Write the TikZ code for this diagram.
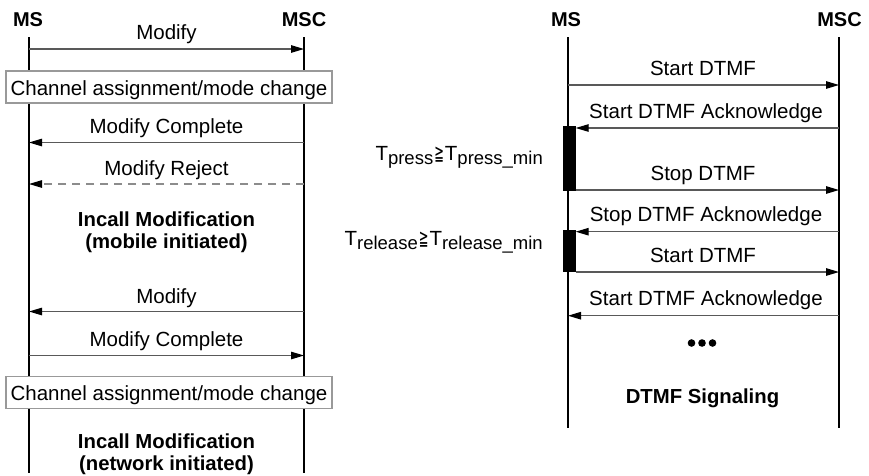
\documentclass[tikz,border=0pt]{standalone}
\usepackage{fontspec}
\usepackage{graphicx}
\setmainfont{Liberation Sans}
\newfontfamily\symfont{DejaVu Sans}
\usetikzlibrary{arrows.meta}
\newcommand{\subtxt}[1]{\raisebox{-3.5pt}{\fontsize{18.5}{18}\selectfont #1}}
\newcommand{\geqq}{\hspace{1pt}\scalebox{0.55}[1]{\symfont\fontsize{21}{21}\selectfont ≧}\hspace{1pt}}
\begin{document}
\begin{tikzpicture}[x=1pt,y=-1pt,
  every node/.style={inner sep=0pt, font=\fontsize{20.5}{21.7}\selectfont},
  head/.style={anchor=base, font=\fontsize{20}{21.7}\selectfont\bfseries},
  lbl/.style={anchor=base},
  title/.style={align=center, font=\fontsize{20.3}{21.7}\selectfont\bfseries},
  life/.style={line width=2.2pt, black},
  msg/.style={line width=1.1pt, draw=black!65, -{Triangle[length=13pt,width=7.5pt,color=black]}},
  rej/.style={msg, draw=black!45, dash pattern=on 8pt off 6pt},
  chbox/.style={anchor=base, draw=black!40, line width=1.4pt, fill=white,
    minimum width=326pt, text height=24pt, text depth=8pt},
  bar/.style={fill=black, draw=none},
]
\useasboundingbox (0,0) rectangle (869,475);

% ---------- left diagram ----------
\node[head] (msA) at (28,26) {MS};
\node[head] (mscA) at (304,26) {MSC};
\coordinate (msAtop) at (29,37);
\coordinate (msAbot) at (29,473);
\coordinate (mscAtop) at (304,37);
\coordinate (mscAbot) at (304,473);
\draw[life] (msAtop) -- (msAbot);
\draw[life] (mscAtop) -- (mscAbot);

\node[lbl] (a1) at (166.5,39) {Modify};
\draw[msg] (msAtop |- 0,49) -- (mscAtop |- 0,49);

\node[chbox] (box1) at (169,95) {Channel assignment/mode change};

\node[lbl] (a2) at (166.5,133.3) {Modify Complete};
\draw[msg] (mscAtop |- 0,142.5) -- (msAtop |- 0,142.5);

\node[lbl] (a3) at (166.5,175) {Modify Reject};
\draw[rej] (mscAtop |- 0,184) -- (msAtop |- 0,184);

\node[title] (t1) at (166.5,232.5) {Incall Modification\\(mobile initiated)};

\node[lbl] (a4) at (166.5,303.3) {Modify};
\draw[msg] (mscAtop |- 0,311.5) -- (msAtop |- 0,311.5);

\node[lbl] (a5) at (166.5,346) {Modify Complete};
\draw[msg] (msAtop |- 0,355.5) -- (mscAtop |- 0,355.5);

\node[chbox] (box2) at (169,400.3) {Channel assignment/mode change};

\node[title] (t2) at (166.5,454) {Incall Modification\\(network initiated)};

% ---------- right diagram ----------
\node[head] (msB) at (566,26) {MS};
\node[head] (mscB) at (839.5,26) {MSC};
\coordinate (msBtop) at (568,37);
\coordinate (msBbot) at (568,428);
\coordinate (mscBtop) at (839,37);
\coordinate (mscBbot) at (839,428);
\draw[life] (msBtop) -- (msBbot);
\draw[life] (mscBtop) -- (mscBbot);

\node[bar, minimum width=13pt, minimum height=65pt] (bar1) at (569,158.5) {};
\node[bar, minimum width=13pt, minimum height=42pt] (bar2) at (569,251) {};

\node[lbl] (b1) at (703,75) {Start DTMF};
\draw[msg] (msBtop |- 0,85) -- (mscBtop |- 0,85);

\node[lbl] (b2) at (706,118.3) {Start DTMF Acknowledge};
\draw[msg] (mscBtop |- 0,128) -- (bar1.east |- 0,128);

\node[lbl] (b3) at (703,180) {Stop DTMF};
\draw[msg] (bar1.east |- 0,190) -- (mscBtop |- 0,190);

\node[lbl] (b4) at (706,221.7) {Stop DTMF Acknowledge};
\draw[msg] (mscBtop |- 0,231.7) -- (bar2.east |- 0,231.7);

\node[lbl] (b5) at (703,262.7) {Start DTMF};
\draw[msg] (bar2.east |- 0,272) -- (mscBtop |- 0,272);

\node[lbl] (b6) at (706,305) {Start DTMF Acknowledge};
\draw[msg] (mscBtop |- 0,315.7) -- (msBtop |- 0,315.7);

\node (dots) at (702,343) {};
\fill (dots) ++(-10.5,0) circle (3.8) (dots) circle (3.8) (dots) ++(10.5,0) circle (3.8);

\node[title] (t3) at (702.5,398) {DTMF Signaling};

\node[anchor=base east] (tp) at (543,160.7) {T\subtxt{press}\geqq T\subtxt{press\_min}};
\node[anchor=base east] (tr) at (543,245.7) {T\subtxt{release}\geqq T\subtxt{release\_min}};
\end{tikzpicture}
\end{document}
